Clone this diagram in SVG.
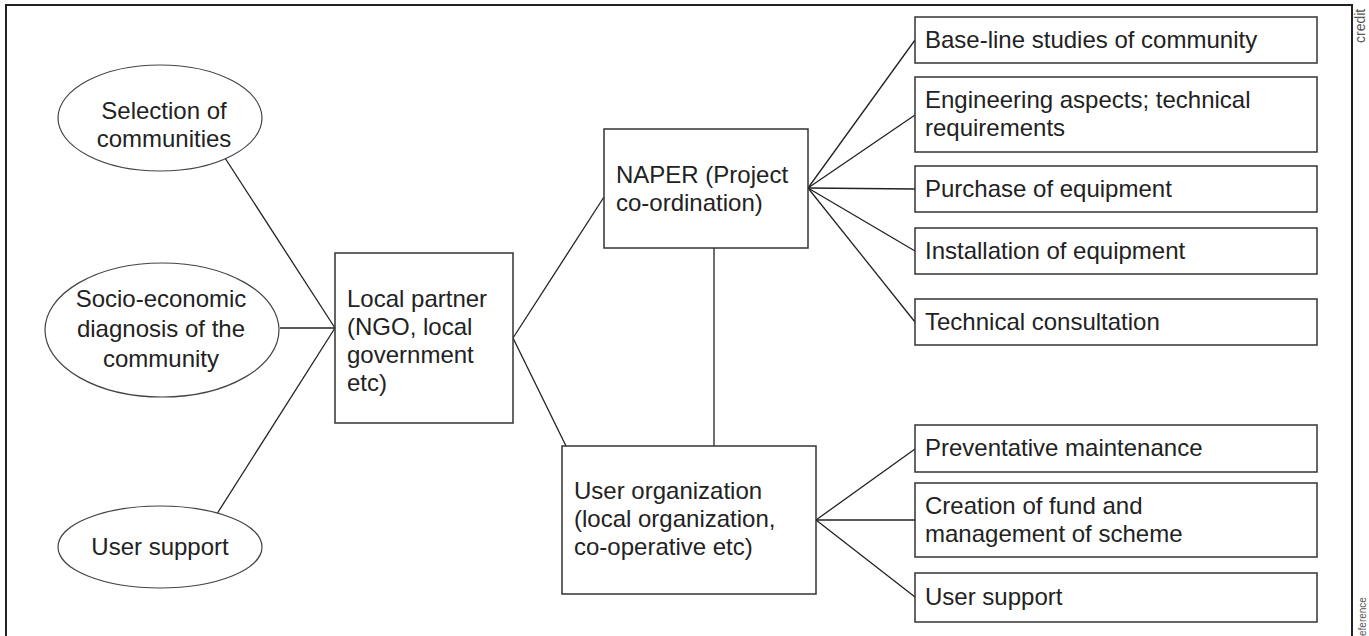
<svg xmlns="http://www.w3.org/2000/svg" width="1369" height="636" viewBox="0 0 1369 636">
  <style>
    .frame { fill: none; stroke: #222; stroke-width: 2; }
    .box { fill: #fff; stroke: #333; stroke-width: 1.5; }
    .oval { fill: #fff; stroke: #444; stroke-width: 1.2; }
    .link { fill: none; stroke: #222; stroke-width: 1.3; }
    .label { font-family: "Liberation Sans", Arial, sans-serif; font-size: 24px; fill: #222; }
    .mid { text-anchor: middle; }
    .note { font-family: "Liberation Sans", Arial, sans-serif; fill: #555; }
  </style>

  <rect width="1369" height="636" fill="#fff"/>

  <!-- page frame, open at the bottom -->
  <path class="frame" d="M6 636 V5 H1352 V636"/>

  <!-- margin notes -->
  <text class="note" font-size="14" transform="translate(1365 43) rotate(-90)">credit</text>
  <text class="note" font-size="10" transform="translate(1366 636) rotate(-90)">eference</text>

  <!-- connectors -->
  <g id="connectors">
    <line class="link" x1="225" y1="158" x2="335" y2="328"/>
    <line class="link" x1="280" y1="328" x2="335" y2="328"/>
    <line class="link" x1="217.5" y1="513" x2="335" y2="328"/>
    <line class="link" x1="513" y1="338" x2="604" y2="197"/>
    <line class="link" x1="513" y1="338" x2="566" y2="446"/>
    <line class="link" x1="714" y1="248" x2="714" y2="446"/>
    <line class="link" x1="808" y1="188" x2="915" y2="40"/>
    <line class="link" x1="808" y1="188" x2="915" y2="115"/>
    <line class="link" x1="808" y1="188" x2="915" y2="189"/>
    <line class="link" x1="808" y1="188" x2="915" y2="251"/>
    <line class="link" x1="808" y1="188" x2="915" y2="322"/>
    <line class="link" x1="816" y1="520" x2="915" y2="449"/>
    <line class="link" x1="816" y1="520" x2="915" y2="520"/>
    <line class="link" x1="816" y1="520" x2="915" y2="597"/>
  </g>

  <!-- left-hand activities -->
  <g id="selection">
    <ellipse class="oval" cx="160" cy="118" rx="102" ry="53"/>
    <text class="label mid" x="164" y="119">Selection of</text>
    <text class="label mid" x="164" y="147">communities</text>
  </g>
  <g id="diagnosis">
    <ellipse class="oval" cx="162" cy="330" rx="117" ry="67"/>
    <text class="label mid" x="161" y="307">Socio-economic</text>
    <text class="label mid" x="161" y="337">diagnosis of the</text>
    <text class="label mid" x="161" y="367">community</text>
  </g>
  <g id="user-support-left">
    <ellipse class="oval" cx="160" cy="547" rx="102" ry="41"/>
    <text class="label mid" x="160" y="555">User support</text>
  </g>

  <!-- central organisations -->
  <g id="local-partner">
    <rect class="box" x="335" y="253" width="178" height="170"/>
    <text class="label" x="347" y="307">Local partner</text>
    <text class="label" x="347" y="335">(NGO, local</text>
    <text class="label" x="347" y="363">government</text>
    <text class="label" x="347" y="391">etc)</text>
  </g>
  <g id="naper">
    <rect class="box" x="604" y="129" width="204" height="119"/>
    <text class="label" x="616" y="183">NAPER (Project</text>
    <text class="label" x="616" y="211">co-ordination)</text>
  </g>
  <g id="user-organization">
    <rect class="box" x="562" y="446" width="254" height="148"/>
    <text class="label" x="574" y="499">User organization</text>
    <text class="label" x="574" y="527">(local organization,</text>
    <text class="label" x="574" y="555">co-operative etc)</text>
  </g>

  <!-- NAPER tasks -->
  <g id="baseline-studies">
    <rect class="box" x="915" y="17" width="402" height="46"/>
    <text class="label" x="925" y="48">Base-line studies of community</text>
  </g>
  <g id="engineering">
    <rect class="box" x="915" y="77" width="402" height="75"/>
    <text class="label" x="925" y="108">Engineering aspects; technical</text>
    <text class="label" x="925" y="136">requirements</text>
  </g>
  <g id="purchase">
    <rect class="box" x="915" y="166" width="402" height="46"/>
    <text class="label" x="925" y="197">Purchase of equipment</text>
  </g>
  <g id="installation">
    <rect class="box" x="915" y="228" width="402" height="46"/>
    <text class="label" x="925" y="259">Installation of equipment</text>
  </g>
  <g id="consultation">
    <rect class="box" x="915" y="299" width="402" height="46"/>
    <text class="label" x="925" y="330">Technical consultation</text>
  </g>

  <!-- user organisation tasks -->
  <g id="maintenance">
    <rect class="box" x="915" y="425" width="402" height="47"/>
    <text class="label" x="925" y="456">Preventative maintenance</text>
  </g>
  <g id="fund">
    <rect class="box" x="915" y="483" width="402" height="74"/>
    <text class="label" x="925" y="514">Creation of fund and</text>
    <text class="label" x="925" y="542">management of scheme</text>
  </g>
  <g id="user-support-right">
    <rect class="box" x="915" y="573" width="402" height="49"/>
    <text class="label" x="925" y="605">User support</text>
  </g>
</svg>
